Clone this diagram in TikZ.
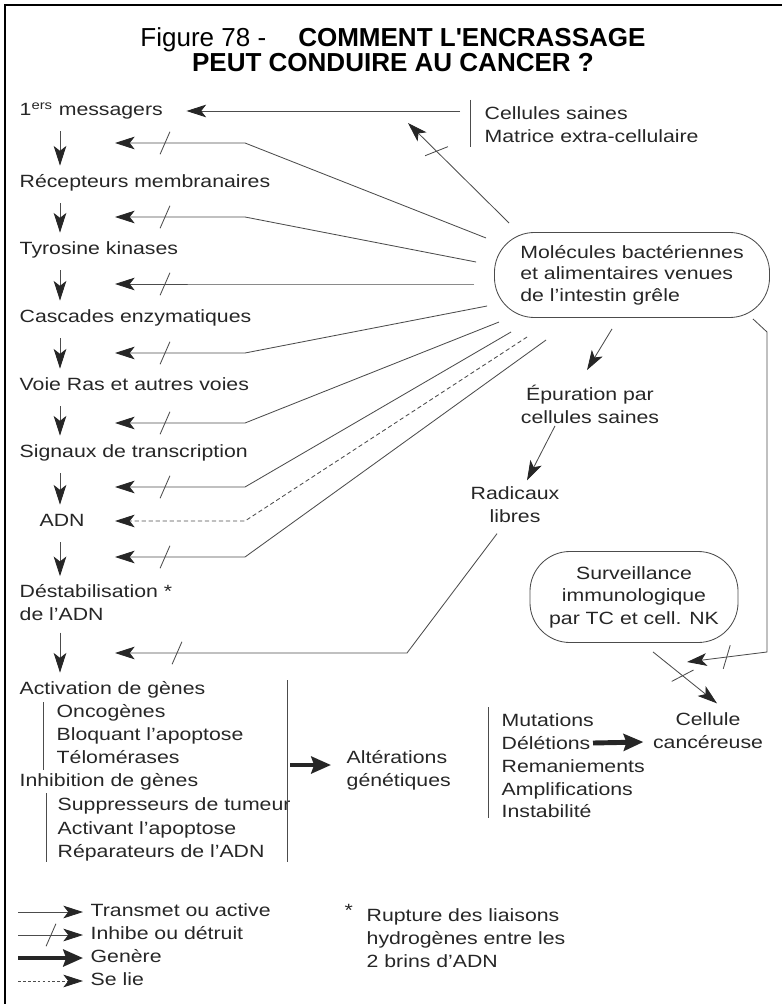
\documentclass[tikz,border=0pt]{standalone}
\usepackage{fontspec}
\setmainfont{Liberation Sans}[FakeStretch=1.2]
\newfontfamily\titlefont{Liberation Sans}
\usepackage{xcolor}
\usepackage{tikz}
\usetikzlibrary{arrows.meta,calc,decorations.markings}
\definecolor{txt}{gray}{0.15}
\definecolor{ln}{gray}{0.3}

\begin{document}
\begin{tikzpicture}[x=0.025cm,y=-0.025cm,
  txtnode/.style={font=\fontsize{12.6}{16.3}\selectfont,text=txt,inner sep=1pt},
  item/.style={txtnode,anchor=west,text height=9.5pt,text depth=2.8pt},
  act/.style={draw=ln,line width=0.6pt,-{Stealth[length=14pt,width=9pt,inset=3.5pt,color=black!85]}},
  inh/.style={act,postaction={decorate,decoration={markings,
      mark=at position -#1 with {\draw[-,ln,line width=0.6pt] (-3.5pt,-8pt) -- (3.5pt,8pt);}}}},
  inh/.default=1.25cm,
  bind/.style={act,dash pattern=on 3pt off 2pt},
  gen/.style={draw=black!85,line width=3.5pt,-{Stealth[length=14pt,width=12pt,inset=2pt]}},
  bar/.style={draw=ln,line width=0.6pt},
  pill/.style={txtnode,draw=ln,line width=0.6pt,rounded corners=1cm}]
  \useasboundingbox (0,0) rectangle (782,1004);
  % ── Frame and title ────────────────────────────────
  \draw[line width=1pt] (5,1004) -- (5,5) -- (782,5);
  \node[font=\titlefont\fontsize{18.5}{18}\selectfont,align=center,inner sep=0pt] (title) at (393,50)
    {Figure 78 -\hspace{0.8cm}\textbf{COMMENT L'ENCRASSAGE}\\\textbf{PEUT CONDUIRE AU CANCER ?}};
  % ── Signal chain (left column) ─────────────────────
  \node[item] (m1) at (18,111) {1\textsuperscript{ers} messagers};
  \node[item] (m2) at (18,183) {Récepteurs membranaires};
  \node[item] (m3) at (18,250) {Tyrosine kinases};
  \node[item] (m4) at (18,318) {Cascades enzymatiques};
  \node[item] (m5) at (18,386) {Voie Ras et autres voies};
  \node[item] (m6) at (18,453) {Signaux de transcription};
  \node[item] (m7) at (38,522) {ADN};
  \node[txtnode,anchor=west,align=left] (m8) at (18,603) {Déstabilisation *\\de l'ADN};
  \node[item] (g1) at (18,690) {Activation de gènes};
  \node[item] (g2) at (55,713) {Oncogènes};
  \node[item] (g3) at (55,736) {Bloquant l'apoptose};
  \node[item] (g4) at (55,759) {Télomérases};
  \node[item] (g5) at (18,782) {Inhibition de gènes};
  \node[item] (g6) at (56,806) {Suppresseurs de tumeur};
  \node[item] (g7) at (56,830) {Activant l'apoptose};
  \node[item] (g8) at (56,853) {Réparateurs de l'ADN};
  \draw[bar] (43,702) -- (43,770);
  \draw[bar] (46,793) -- (46,862);
  \draw[bar] (287,680) -- (287,862);
  % down arrows of the chain
  \coordinate (colx) at (60,0);
  \foreach \a/\b in {m1/m2,m2/m3,m3/m4,m4/m5,m5/m6,m6/m7,m7/m8,m8/g1}
    \draw[act,shorten <=7pt,shorten >=5pt] (\a.south -| colx) -- (\b.north -| colx);
  % ── Right side ─────────────────────────────────────
  \node[txtnode,anchor=west,align=left] (cs) at (483,125) {Cellules saines\\Matrice extra-cellulaire};
  \draw[bar] (470,100) -- (470,147);
  \node[pill,align=left,minimum width=6.875cm,minimum height=2.125cm,
    font=\fontsize{12.6}{15.3}\selectfont] (mol) at (632,275)
    {Molécules bactériennes\\et alimentaires venues\\de l'intestin grêle};
  \node[txtnode,align=center] (epur) at (590,404) {Épuration par\\cellules saines};
  \node[txtnode,align=center] (rad) at (515,505) {Radicaux\\libres};
  \node[pill,align=center,minimum width=5.2cm,minimum height=2.275cm,
    font=\fontsize{12.6}{16}\selectfont] (surv) at (634,597)
    {Surveillance\\immunologique\\par TC et cell. NK};
  \node[txtnode,align=center] (cell) at (708,731) {Cellule\\cancéreuse};
  \node[txtnode,anchor=west,align=left] (alt) at (345,770) {Altérations\\génétiques};
  \node[txtnode,anchor=west,align=left,font=\fontsize{12.6}{16.2}\selectfont] (mut) at (500,766)
    {Mutations\\Délétions\\Remaniements\\Amplifications\\Instabilité};
  \draw[bar] (488,707) -- (488,818);
  % ── Connectors ─────────────────────────────────────
  % cellules saines -> 1ers messagers
  \draw[act] ($(cs.west)+(-23,-14)$) -- ($(m1.east)+(22,0)$);
  % molecules -> cellules saines (destroys)
  \coordinate (up) at (408,123);
  \draw[inh=1cm] ($(mol.west)+(15,-52)$) -- (up);
  % molecules -> each step of the chain (inhibit)
  \foreach \ty/\dx/\dy [count=\i] in {143/-8/-37,217/-18/-13,284/-20/9,353/-7/31,423/5/47,487/17/57,557/52/65}{
    \coordinate (t\i) at (115,\ty);
    \draw[inh] ($(mol.west)+(\dx,\dy)$) -- (245,\ty) -- (t\i);
  }
  % molecules bind ADN
  \coordinate (t0) at (115,521);
  \draw[bind] ($(mol.west)+(33,62)$) -- (245,521) -- (t0);
  % purification path
  \draw[act] ($(mol.south)+(-20,11)$) -- ($(epur.north)+(-3,-13)$);
  \draw[act] ($(epur.south)+(-35,1)$) -- ($(rad.north)+(12,-5)$);
  \coordinate (t9) at (115,653);
  \draw[inh=1.55cm] ($(rad.south)+(-18,9)$) -- (407,653) -- (t9);
  % molecules block the surveillance
  \coordinate (sv) at (687,662);
  \draw[inh=1cm] ($(mol.south east)+(-17,1)$) -- (767,332) -- (767,652) -- (sv);
  \draw[inh=1.1cm] ($(surv.south)+(19,9)$) -- ($(cell.north)+(9,-8)$);
  % generated
  \draw[gen] ($(alt.west)+(-55,-5)$) -- ($(alt.west)+(-14,-5)$);
  \draw[gen] ($(mut.west)+(93,-23)$) -- ($(cell.west)+(-8,11)$);
  % ── Legend ─────────────────────────────────────────
  \node[item] (l1) at (89,912) {Transmet ou active};
  \node[item] (l2) at (89,935) {Inhibe ou détruit};
  \node[item] (l3) at (89,958) {Genère};
  \node[item] (l4) at (89,981) {Se lie};
  \draw[act] ($(l1.west)+(-71,0)$) -- ($(l1.west)+(-6,0)$);
  \draw[inh=0.8cm] ($(l2.west)+(-71,0)$) -- ($(l2.west)+(-6,0)$);
  \draw[gen] ($(l3.west)+(-71,0)$) -- ($(l3.west)+(-6,0)$);
  \draw[bind,dash pattern=on 2pt off 1.5pt] ($(l4.west)+(-71,0)$) -- ($(l4.west)+(-6,0)$);
  \node[item] (star) at (343,912) {*};
  \node[txtnode,anchor=west,align=left] (fn) at (365,938)
    {Rupture des liaisons\\hydrogènes entre les\\2 brins d'ADN};
\end{tikzpicture}
\end{document}
